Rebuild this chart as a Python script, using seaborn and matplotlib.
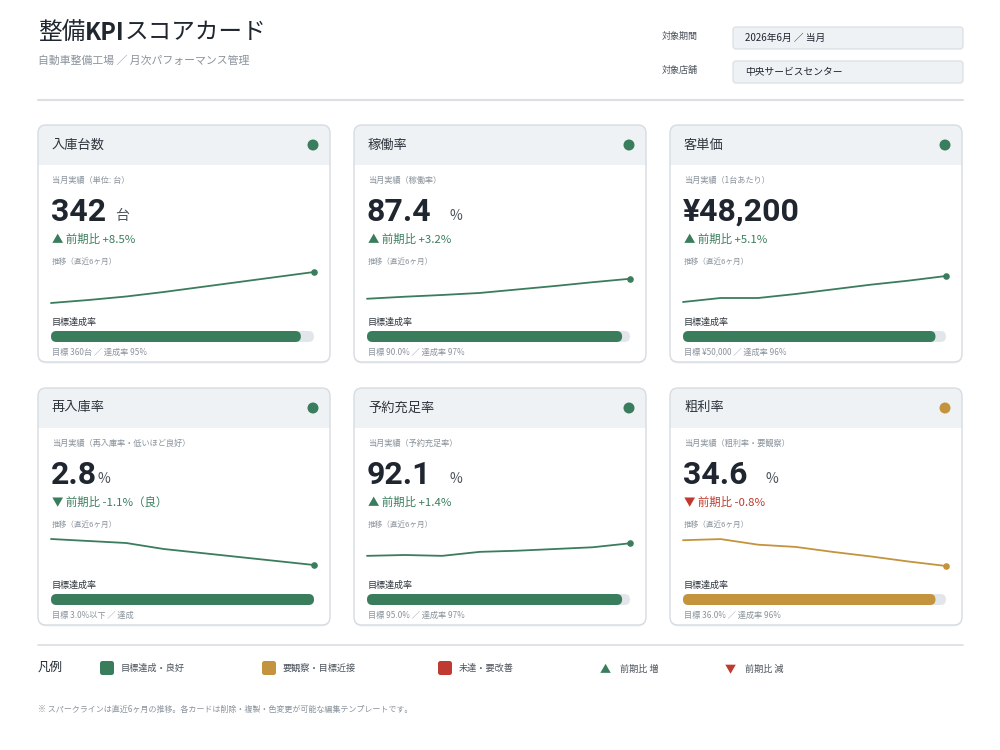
import matplotlib
matplotlib.use("Agg")
import matplotlib.pyplot as plt
import seaborn as sns
import pandas as pd
from matplotlib.patches import FancyBboxPatch, Rectangle, Circle

# KPI card data
kpi_names = ["入庫台数", "稼働率", "客単価", "再入庫率", "予約充足率", "粗利率"]
kpi_notes = ["当月実績（単位: 台）", "当月実績（稼働率）", "当月実績（1台あたり）",
             "当月実績（再入庫率・低いほど良好）", "当月実績（予約充足率）", "当月実績（粗利率・要観察）"]
current_values = [342, 87.4, 48200, 2.8, 92.1, 34.6]
value_formats = ["{:.0f}", "{:.1f}", "¥{:,.0f}", "{:.1f}", "{:.1f}", "{:.1f}"]
units = ["台", "%", "", "%", "%", "%"]
change_pct = [8.5, 3.2, 5.1, -1.1, 1.4, -0.8]
change_notes = ["", "", "", "（良）", "", ""]
change_good = [True, True, True, True, True, False]
target_labels = ["360台", "90.0%", "¥50,000", "3.0%以下", "95.0%", "36.0%"]
achievement = [95, 97, 96, 100, 97, 96]
achievement_labels = ["達成率 95%", "達成率 97%", "達成率 96%", "達成", "達成率 97%", "達成率 96%"]
status = ["good", "good", "good", "good", "good", "watch"]

# sparklines (monthly trend)
month_idx = [0, 1, 2, 3, 4, 5, 6, 7]
trend_visits = [280, 286, 293, 302, 312, 322, 332, 342]
trend_utilization = [80.5, 81.2, 81.8, 82.5, 83.7, 84.9, 86.2, 87.4]
trend_unit_price = [44300, 44900, 44900, 45500, 46200, 46900, 47500, 48200]
trend_revisit = [4.1, 4.0, 3.9, 3.6, 3.4, 3.2, 3.0, 2.8]
trend_booking = [87.7, 88.0, 87.7, 89.1, 89.5, 90.1, 90.7, 92.1]
trend_margin = [39.2, 39.4, 38.4, 38.0, 37.1, 36.3, 35.4, 34.6]
trends = [trend_visits, trend_utilization, trend_unit_price, trend_revisit, trend_booking, trend_margin]
spark_ylim = [(274, 354), (78.0, 91.8), (43700, 49700), (2.6, 4.6), (83.1, 97.1), (34.06, 41.2)]

legend_labels = ["目標達成・良好", "要観察・目標近接", "未達・要改善"]

GREEN = "#3A7D5C"
GOLD = "#C4933D"
RED = "#BF3A30"
RED_TXT = "#C0392B"
DARK = "#1F2630"
MID = "#4A525B"
GRAY = "#8A939C"
HEAD_BG = "#EEF2F5"
BORDER = "#D6DCE2"
TRACK = "#E2E6EA"
status_color = {"good": GREEN, "watch": GOLD, "bad": RED}

sns.set_theme(style="white")
plt.rcParams['font.family'] = ['Noto Sans CJK JP', 'DejaVu Sans']
NUM_FONT = ['Roboto', 'Noto Sans CJK JP']

W, H = 1000, 750
fig = plt.figure(figsize=(10, 7.5), dpi=100)
fig.patch.set_facecolor("white")

ax = fig.add_axes([0, 0, 1, 1])
ax.set_xlim(0, W)
ax.set_ylim(H, 0)
ax.axis("off")


def px_axes(x, y, w, h):
    a = fig.add_axes([x / W, 1 - (y + h) / H, w / W, h / H])
    a.axis("off")
    return a


renderer = fig.canvas.get_renderer()


def text_right(t):
    bb = t.get_window_extent(renderer=renderer)
    return ax.transData.inverted().transform((bb.x1, bb.y0))[0]


# header
t = ax.text(38, 33, "整備", fontsize=17, color=DARK, va="center")
x = text_right(t)
t = ax.text(x, 33, "KPI", fontsize=17, color=DARK, va="center", fontweight="bold")
x = text_right(t)
ax.text(x, 33, "スコアカード", fontsize=17, color=DARK, va="center")
ax.text(38, 61, "自動車整備工場 ／ 月次パフォーマンス管理", fontsize=7.8, color=GRAY, va="center")

for yc, lab, val in [(38, "対象期間", "2026年6月 ／ 当月"), (72, "対象店舗", "中央サービスセンター")]:
    ax.text(662, yc - 2, lab, fontsize=6.5, color=MID, va="center")
    ax.add_patch(FancyBboxPatch((733, yc - 11), 230, 22, boxstyle="round,pad=0,rounding_size=3",
                                fc=HEAD_BG, ec=BORDER, lw=0.8))
    ax.text(745, yc, val, fontsize=7, color=DARK, va="center")

ax.plot([38, 963], [100, 100], color="#DADFE4", lw=1.5)

# cards
col_x = [38, 354, 670]
row_y = [125, 388]
CW, CH, HH = 292, 237, 40

for i, name in enumerate(kpi_names):
    cx = col_x[i % 3]
    T = row_y[i // 3]
    col = status_color[status[i]]

    # light shadow + card body
    ax.add_patch(FancyBboxPatch((cx, T + 1.5), CW, CH, boxstyle="round,pad=0,rounding_size=8",
                                fc="#EDF0F3", ec="none", zorder=0.9))
    ax.add_patch(FancyBboxPatch((cx, T), CW, CH, boxstyle="round,pad=0,rounding_size=8",
                                fc="white", ec="none", zorder=1))
    ax.add_patch(FancyBboxPatch((cx, T), CW, HH, boxstyle="round,pad=0,rounding_size=8",
                                fc=HEAD_BG, ec="none", zorder=1.1))
    ax.add_patch(Rectangle((cx, T + HH - 10), CW, 10, fc=HEAD_BG, ec="none", zorder=1.2))
    ax.add_patch(FancyBboxPatch((cx, T), CW, CH, boxstyle="round,pad=0,rounding_size=8",
                                fc="none", ec=BORDER, lw=1.0, zorder=1.5))

    ax.text(cx + 14, T + 20, name, fontsize=9.5, color="#2E353D", va="center", zorder=3)
    ax.add_patch(Circle((cx + 275, T + 20), 5.5, fc=col, ec="none", zorder=3))

    ax.text(cx + 14, T + 55, kpi_notes[i], fontsize=5.9, color=GRAY, va="center", zorder=3)
    ax.text(cx + 13, T + 96, value_formats[i].format(current_values[i]), fontsize=23,
            fontweight="bold", family=NUM_FONT, color=DARK, va="baseline", zorder=3)
    if units[i]:
        udx = 63 if units[i] == "台" else (45 if current_values[i] < 10 else 82)
        ax.text(cx + 14 + udx, T + 95, units[i], fontsize=10, color=MID,
                va="baseline", zorder=3)

    c = change_pct[i]
    arrow = "▲" if c > 0 else "▼"
    ccol = GREEN if change_good[i] else RED_TXT
    ax.text(cx + 14, T + 114, f"{arrow} 前期比 {c:+.1f}%{change_notes[i]}", fontsize=8.2,
            color=ccol, va="center", zorder=3)

    ax.text(cx + 14, T + 137, "推移（直近6ヶ月）", fontsize=5.5, color=GRAY, va="center", zorder=3)

    sax = px_axes(cx + 13, T + 141, 263, 40)
    df_t = pd.DataFrame({"month": month_idx, "value": trends[i]})
    sns.lineplot(data=df_t, x="month", y="value", color=col, lw=1.3, ax=sax)
    sax.scatter(df_t["month"].iloc[-1], df_t["value"].iloc[-1], s=14, color=col,
                zorder=3, clip_on=False)
    for ln in sax.lines:
        ln.set_clip_on(False)
    sax.set_xlim(0, 7)
    sax.set_ylim(*spark_ylim[i])
    sax.axis("off")

    ax.text(cx + 14, T + 197, "目標達成率", fontsize=6.5, color="#2E353D", va="center", zorder=3)

    bw, bh = 263, 11
    bax = px_axes(cx + 13, T + 206, bw, bh)
    df_b = pd.DataFrame({"kpi": [name], "rate": [achievement[i]]})
    sns.barplot(data=df_b, x="rate", y="kpi", orient="h", color=col, width=1.0,
                saturation=1, ax=bax)
    bax.set_xlim(0, 100)
    bax.set_ylim(0.5, -0.5)
    asp = (1 / bh) / (100 / bw)
    rs = (bh / 2) * 100 / bw
    bax.add_patch(FancyBboxPatch((0, -0.5), 100, 1, boxstyle=f"round,pad=0,rounding_size={rs}",
                                 mutation_aspect=asp, fc=TRACK, ec="none", zorder=0))
    for p in list(bax.patches):
        if isinstance(p, Rectangle) and not isinstance(p, FancyBboxPatch):
            x0, y0, w, h = p.get_x(), p.get_y(), p.get_width(), p.get_height()
            p.remove()
            bax.add_patch(FancyBboxPatch((x0, y0), w, h, boxstyle=f"round,pad=0,rounding_size={rs}",
                                         mutation_aspect=asp, fc=col, ec="none", zorder=2))
    bax.axis("off")

    ax.text(cx + 14, T + 227, f"目標 {target_labels[i]} ／ {achievement_labels[i]}",
            fontsize=5.9, color=GRAY, va="center", zorder=3)

# legend
ax.plot([38, 963], [645, 645], color="#DADFE4", lw=1.2)
ax.text(38, 667, "凡例", fontsize=9, color=DARK, va="center")
for sx, lab, colr in zip([100, 262, 438], legend_labels, [GREEN, GOLD, RED]):
    ax.add_patch(FancyBboxPatch((sx, 661), 14, 14, boxstyle="round,pad=0,rounding_size=2.5",
                                fc=colr, ec="none"))
    ax.text(sx + 21, 668, lab, fontsize=6.6, color=MID, va="center")
ax.text(600, 670, "▲", fontsize=8, color=GREEN, va="center")
ax.text(620, 669, "前期比 増", fontsize=6.6, color=MID, va="center")
ax.text(725, 670, "▼", fontsize=8, color=RED, va="center")
ax.text(745, 669, "前期比 減", fontsize=6.6, color=MID, va="center")

ax.text(38, 709, "※ スパークラインは直近6ヶ月の推移。各カードは削除・複製・色変更が可能な編集テンプレートです。",
        fontsize=5.8, color=GRAY, va="center")

fig.savefig("out.png", dpi=100, facecolor="white")
